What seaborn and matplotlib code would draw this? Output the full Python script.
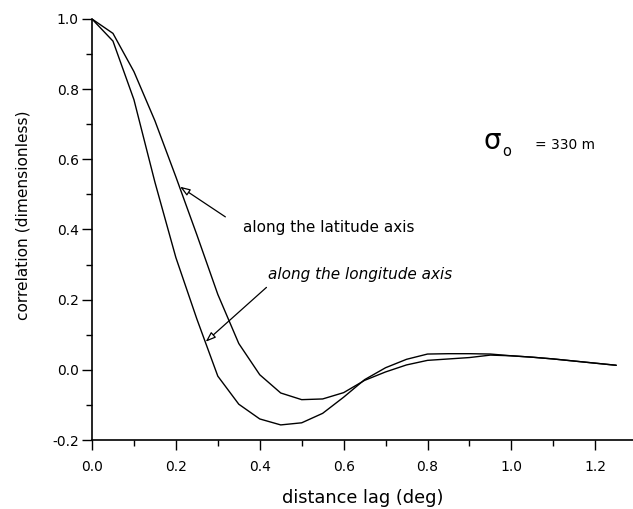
import numpy as np
import pandas as pd
import matplotlib
matplotlib.use("Agg")
import matplotlib.pyplot as plt
import seaborn as sns

lag = [0.0, 0.05, 0.1, 0.15, 0.2, 0.25, 0.3, 0.35, 0.4, 0.45, 0.5, 0.55, 0.6,
       0.65, 0.7, 0.75, 0.8, 0.85, 0.9, 0.95, 1.0, 1.05, 1.1, 1.15, 1.2, 1.25]
latitude = [1.0, 0.959, 0.85, 0.71, 0.55, 0.385, 0.215, 0.075, -0.014, -0.066,
            -0.085, -0.083, -0.065, -0.03, -0.006, 0.014, 0.027, 0.031, 0.035,
            0.042, 0.04, 0.036, 0.031, 0.025, 0.019, 0.013]
longitude = [1.0, 0.937, 0.77, 0.535, 0.32, 0.145, -0.018, -0.098, -0.14,
             -0.157, -0.151, -0.124, -0.078, -0.028, 0.006, 0.03, 0.045, 0.046,
             0.046, 0.045, 0.04, 0.036, 0.031, 0.025, 0.019, 0.013]

df = pd.concat([
    pd.DataFrame({"lag": lag, "corr": latitude, "axis": "latitude"}),
    pd.DataFrame({"lag": lag, "corr": longitude, "axis": "longitude"}),
])

sns.set_theme(style="ticks")
plt.rcParams["font.family"] = ["DejaVu Sans"]
plt.rcParams["axes.unicode_minus"] = False

fig = plt.figure(figsize=(6.33, 5.09), dpi=100)
ax = fig.add_axes([92/633, 69/509, 541/633, 421/509])

sns.lineplot(data=df, x="lag", y="corr", hue="axis", palette=["black", "black"],
             linewidth=1.0, legend=False, ax=ax, sort=False)

ax.set_xlim(0, 1.29)
ax.set_ylim(-0.2, 1.0)
ax.set_xticks([0.0, 0.2, 0.4, 0.6, 0.8, 1.0, 1.2])
ax.set_yticks([-0.2, 0.0, 0.2, 0.4, 0.6, 0.8, 1.0])
ax.set_xticks(np.arange(0.1, 1.3, 0.2), minor=True)
ax.set_yticks(np.arange(-0.1, 1.0, 0.2), minor=True)
ax.xaxis.set_major_formatter(matplotlib.ticker.FormatStrFormatter("%.1f"))
ax.yaxis.set_major_formatter(matplotlib.ticker.FormatStrFormatter("%.1f"))
ax.tick_params(axis="both", which="major", length=7.5, width=1, labelsize=10,
               color="black", labelcolor="black", direction="out")
ax.tick_params(axis="x", which="major", pad=7)
ax.tick_params(axis="y", which="major", pad=2)
ax.tick_params(axis="both", which="minor", length=4.5, width=1, color="black",
               direction="out")
sns.despine(ax=ax)
for s in ["left", "bottom"]:
    ax.spines[s].set_color("black")
    ax.spines[s].set_linewidth(1.2)

ax.set_xlabel("distance lag (deg)", fontsize=12.8, color="black", labelpad=11)
ax.set_ylabel("correlation (dimensionless)", fontsize=11.1, color="black")
ax.yaxis.set_label_coords(-0.1146, 0.534)

ax.text(0.954, 0.652, "\u03c3", fontsize=20, color="black", ha="center", va="center")
ax.text(0.99, 0.621, "o", fontsize=10.5, color="black", ha="center", va="center")
ax.text(1.056, 0.641, "= 330 m", fontsize=9.9, color="black", ha="left", va="center")

ax.text(0.36, 0.407, "along the latitude axis", fontsize=11, color="black",
        ha="left", va="center")
ax.text(0.42, 0.273, "along the longitude axis", fontsize=11, color="black",
        ha="left", va="center", style="italic")

arrowprops = dict(arrowstyle="-|>,head_length=0.5,head_width=0.18",
                  fc="white", ec="black", lw=0.9, shrinkA=0, shrinkB=0)
ax.annotate("", xy=(0.21, 0.522), xytext=(0.318, 0.436), arrowprops=arrowprops)
ax.annotate("", xy=(0.271, 0.08), xytext=(0.416, 0.235), arrowprops=arrowprops)

fig.savefig("out.png", dpi=100)
